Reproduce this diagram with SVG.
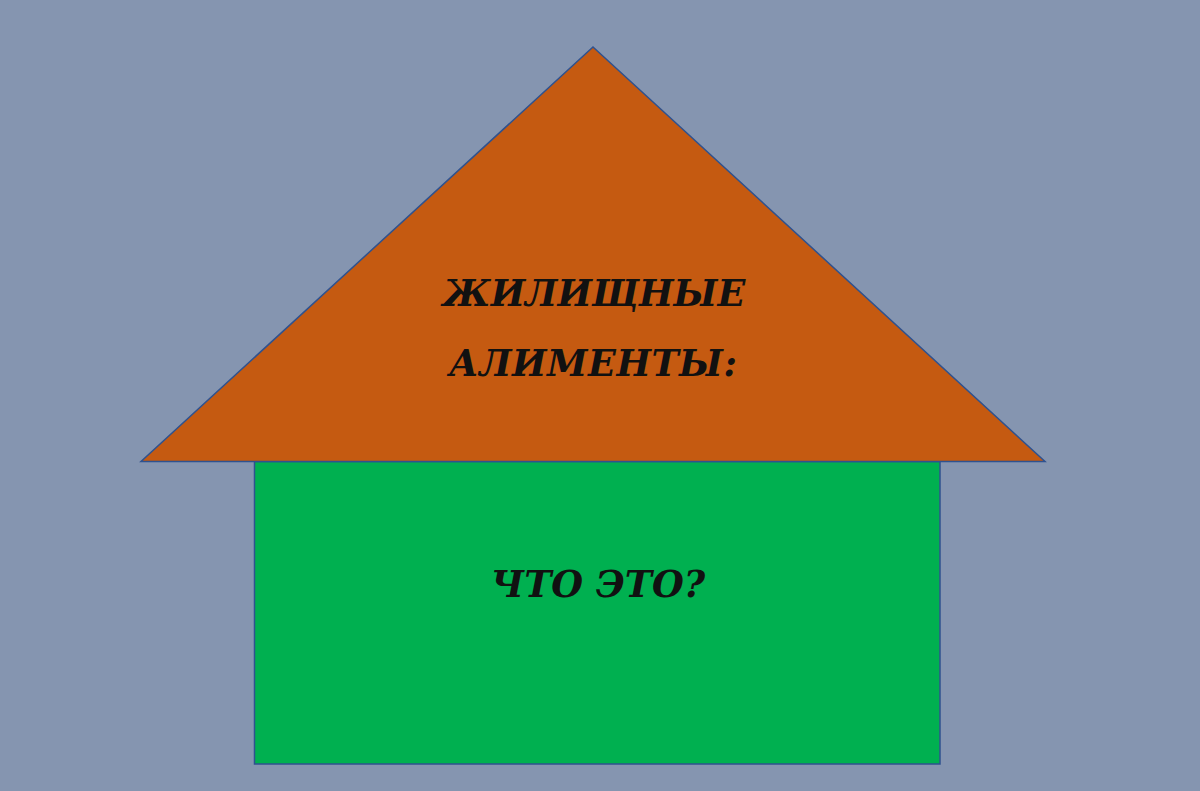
<svg xmlns="http://www.w3.org/2000/svg" width="1200" height="791" viewBox="0 0 1200 791">
<style>
.shape{stroke:#2F528F;stroke-width:1.5}
.t{font-family:"DejaVu Serif",serif;font-weight:bold;font-style:italic;font-size:36.5px;fill:#111;text-anchor:middle}
</style>
<rect width="1200" height="791" fill="#8595B0"/>
<g id="body">
<rect class="shape" x="254.5" y="461.5" width="685.5" height="302.5" fill="#00B050"/>
<text class="t" x="598" y="597">ЧТО ЭТО?</text>
</g>
<g id="roof">
<polygon class="shape" points="593,47 1045,461.5 141,461.5" fill="#C55A11"/>
<text class="t" x="594" y="306">ЖИЛИЩНЫЕ</text>
<text class="t" x="593" y="376" textLength="288" lengthAdjust="spacing">АЛИМЕНТЫ:</text>
</g>
<g id="connectors"/>
</svg>
